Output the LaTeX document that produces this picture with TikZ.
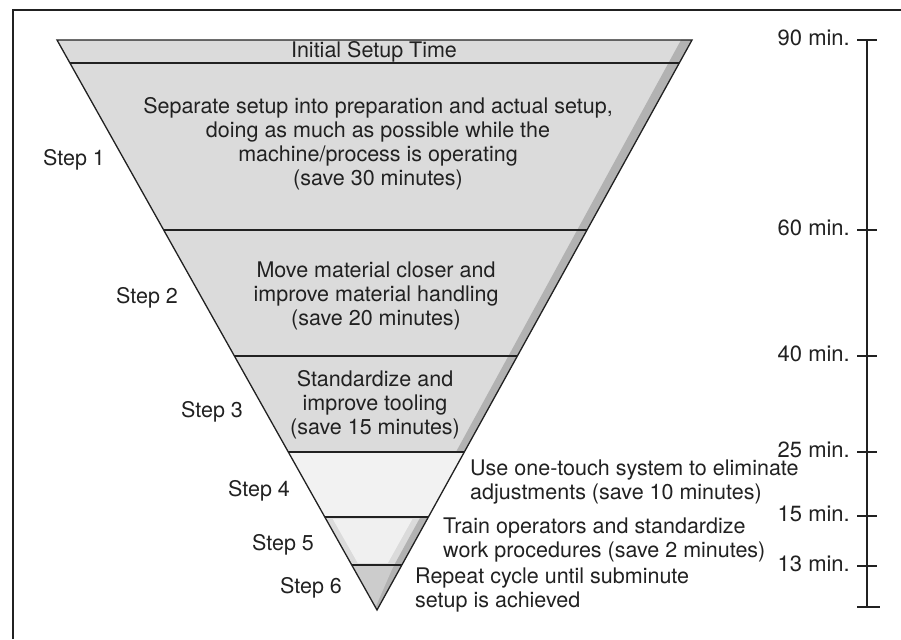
\documentclass[tikz,border=0pt]{standalone}
\usepackage{fontspec}
\setmainfont{TeX Gyre Heros}
\usetikzlibrary{calc}
\definecolor{ink}{gray}{0.13}
\definecolor{bandfill}{gray}{0.86}
\definecolor{shadowfill}{gray}{0.70}
\definecolor{lightfill}{gray}{0.95}
\definecolor{midfill}{gray}{0.80}
\tikzset{
  txt/.style={font=\fontsize{21.5}{24}\selectfont, text=ink, inner sep=0pt, align=center},
  ltxt/.style={font=\fontsize{21.5}{23.5}\selectfont, text=ink, inner sep=0pt, align=left, anchor=west},
  steplbl/.style={font=\fontsize{21.5}{24}\selectfont, text=ink, inner sep=0pt},
  scalelbl/.style={font=\fontsize{22}{24}\selectfont, text=ink, inner sep=0pt, anchor=east},
  outline/.style={draw=ink, line width=1.3pt, line join=miter},
  sep/.style={draw=ink, line width=1.2pt},
  axis/.style={draw=ink, line width=1.2pt},
}
\begin{document}
\begin{tikzpicture}[x=1pt,y=-1pt]
\useasboundingbox (0,0) rectangle (901,639);
% frame (top and left visible)
\draw[ink, line width=1.4pt] (13,639) -- (13,10) -- (901,10);
% triangle corners
\coordinate (TL) at (57,40);
\coordinate (TR) at (692,40);
\coordinate (A) at (377,610);
% band boundaries
\foreach \n/\t in {a/0.04035, b/0.33333, c/0.55439, d/0.72281, e/0.83684, f/0.92105}{
  \coordinate (L\n) at ($(TL)!\t!(A)$);
  \coordinate (R\n) at ($(TR)!\t!(A)$);
}
% fills
\fill[bandfill] (TL) -- (TR) -- (A) -- cycle;
\fill[shadowfill] (TR) -- (681,40) -- ($(A)+(-3,-8)$) -- (A) -- cycle;
\fill[lightfill] (Ld) -- (Rd) -- (Re) -- (Le) -- cycle;
\fill[gray!12] ($(Le)+(8,2)$) -- ($(Re)+(-16,2)$) -- ($(Rf)+(-14,-2)$) -- ($(Lf)+(6,-2)$) -- cycle;
\fill[midfill] (Lf) -- ($(Rf)+(-8,0)$) -- ($(A)+(-1,-4)$) -- cycle;
% outline and separators
\draw[outline] (TL) -- (TR) -- (A) -- cycle;
\foreach \n in {a,b,c,d,e,f}{ \draw[sep] (L\n) -- (R\n); }
% texts inside
\node[txt] (t0) at (374,52) {Initial Setup Time};
\node[txt] (t1) at (378,144) {Separate setup into preparation and actual setup,\\doing as much as possible while the\\machine/process is operating\\(save 30 minutes)};
\node[txt] (t2) at (376,296) {Move material closer and\\improve material handling\\(save 20 minutes)};
\node[txt] (t3) at (375,405) {Standardize and\\improve tooling\\(save 15 minutes)};
% texts outside
\node[ltxt] (t4) at (470,482) {Use one-touch system to eliminate\\adjustments (save 10 minutes)};
\node[ltxt] (t5) at (443,540) {Train operators and standardize\\work procedures (save 2 minutes)};
\node[ltxt] (t6) at (415,590) {Repeat cycle until subminute\\setup is achieved};
% step labels
\node[steplbl] (s1) at (74,160) {Step 1};
\node[steplbl] (s2) at (147,298) {Step 2};
\node[steplbl] (s3) at (212,412) {Step 3};
\node[steplbl] (s4) at (259,491) {Step 4};
\node[steplbl] (s5) at (283,545) {Step 5};
\node[steplbl] (s6) at (311,588) {Step 6};
% scale
\coordinate (S0) at (867,40);
\coordinate (S6) at (867,607);
\draw[axis] (S0) -- (S6);
\draw[axis] (857,40) -- (877,40);
\draw[axis] (857,607) -- (880,607);
\foreach \y/\lab in {40/90, 230/60, 356/40, 452/25, 516/15, 566/13}{
  \ifnum\y>40 \draw[axis] (857,\y) -- (877,\y); \fi
  \node[scalelbl] at (850,\y-2) {\lab\ min.};
}
\end{tikzpicture}
\end{document}
